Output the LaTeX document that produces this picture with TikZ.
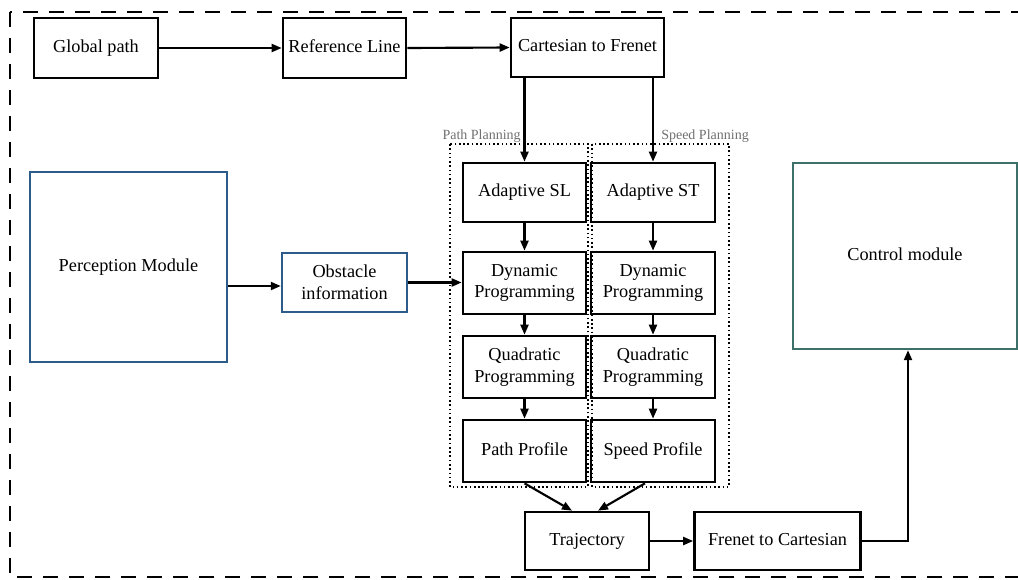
\documentclass[tikz,border=0pt]{standalone}
\usepackage{fontspec}
\setmainfont{Liberation Serif}
\usetikzlibrary{arrows.meta}
\definecolor{percblue}{HTML}{2E5C8A}
\definecolor{ctrlteal}{HTML}{3D7068}
\definecolor{labelgray}{HTML}{707070}
\begin{document}
\begin{tikzpicture}[x=0.75pt,y=-0.75pt,
  box/.style={draw, line width=2pt, inner sep=0pt, align=center,
    font=\fontsize{13.7}{16.3}\selectfont},
  oneline/.style={text height=0.64em, text depth=0pt},
  sz/.style 2 args={minimum width=#1*0.75pt, minimum height=#2*0.75pt},
  arr/.style={line width=1.6pt, -{Triangle[length=7.5pt,width=6pt]}},
  groupframe/.style={line width=1.2pt, dotted},
  grouplabel/.style={text=labelgray, inner sep=0pt, font=\fontsize{10.5}{12}\selectfont},
  outerframe/.style={line width=1.6pt, dash pattern=on 11pt off 8.5pt}]
\useasboundingbox (0,0) rectangle (1018,579);

% outer dashed frame, running off the right side
\begin{scope}
  \clip (0,0) rectangle (1018,579);
  \draw[outerframe] (10,12) rectangle (1045,577);
\end{scope}

% planning groups
\draw[groupframe] (450,144) rectangle (588,487);
\draw[groupframe] (592,144) rectangle (729,487);
\node[grouplabel, anchor=base east] (pplab) at (521,139) {Path Planning};
\node[grouplabel, anchor=base west] (splab) at (661,139) {Speed Planning};

% top row
\node[box, oneline, sz={124}{60}] (gp) at (96,48) {Global path};
\node[box, oneline, sz={123}{60}] (rl) at (344.5,48) {Reference Line};
\node[box, oneline, sz={153}{59}] (cf) at (587.5,47.5) {Cartesian to Frenet};

% path planning column
\node[box, oneline, sz={123}{59}] (sl)  at (524.5,192.5) {Adaptive SL};
\node[box, sz={123}{62}] (dpl) at (524.5,283) {Dynamic\\Programming};
\node[box, sz={123}{62}] (qpl) at (524.5,367) {Quadratic\\Programming};
\node[box, oneline, sz={123}{62}] (ppf) at (524.5,451) {Path Profile};

% speed planning column
\node[box, oneline, sz={124}{59}] (st)  at (653,192.5) {Adaptive ST};
\node[box, sz={124}{62}] (dps) at (653,283) {Dynamic\\Programming};
\node[box, sz={124}{62}] (qps) at (653,367) {Quadratic\\Programming};
\node[box, oneline, sz={124}{62}] (spf) at (653,451) {Speed Profile};

% bottom row
\node[box, oneline, sz={124}{58}] (tr) at (587,541) {Trajectory};
\node[box, oneline, sz={166}{58}] (fc) at (777.5,541) {Frenet to Cartesian};

% modules
\node[box, oneline, draw=percblue, line width=1.8pt, sz={197}{190}] (pm) at (128.5,267) {Perception Module};
\node[box, draw=percblue, line width=1.8pt, sz={125}{59}] (oi) at (344.5,282.5) {Obstacle\\information};
\node[box, oneline, draw=ctrlteal, line width=1.8pt, sz={224}{186}] (cm) at (905,256) {Control module};

% connectors
\draw[arr] (gp.east) -- (rl.west);
\draw[arr] (rl.east) -- (cf.west);
\draw[arr] (cf.south -| sl.north) -- (sl.north);
\draw[arr] (cf.south -| st.north) -- (st.north);

\draw[arr] ([yshift=-14.25pt]pm.east) -- ([yshift=-14.25pt]pm.east -| oi.west);
\draw[arr] (oi.east) -- (oi.east -| dpl.west);

\draw[arr] (sl.south) -- (dpl.north);
\draw[arr] (dpl.south) -- (qpl.north);
\draw[arr] (qpl.south) -- (ppf.north);
\draw[arr] (st.south) -- (dps.north);
\draw[arr] (dps.south) -- (qps.north);
\draw[arr] (qps.south) -- (spf.north);

\draw[arr] (ppf.south) -- ([xshift=-11.25pt]tr.north);
\draw[arr] ([xshift=-6pt]spf.south) -- ([xshift=8.25pt]tr.north);

\draw[arr] (tr.east) -- (fc.west);
\draw[arr] (fc.east) -| ([xshift=2.25pt]cm.south);
\end{tikzpicture}
\end{document}
